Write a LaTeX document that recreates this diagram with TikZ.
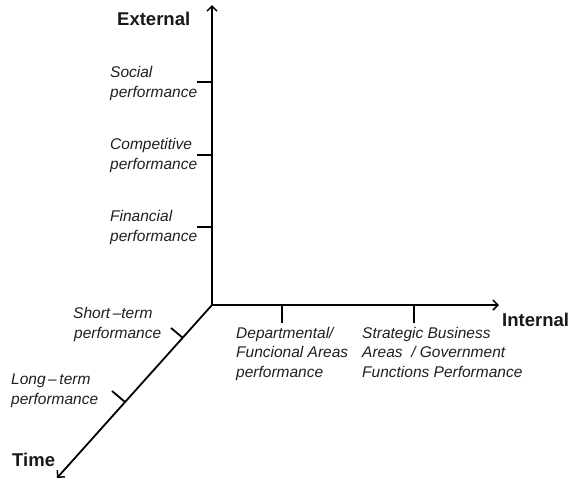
\documentclass[tikz,border=0pt]{standalone}
\usepackage{fontspec}
\setmainfont{Liberation Sans}
\usetikzlibrary{arrows.meta}
\begin{document}
\begin{tikzpicture}[x=1pt,y=-1pt,
  axis/.style={line width=1.8pt, -{Straight Barb[length=5pt,width=10pt,line width=1.5pt]}},
  tick/.style={line width=1.8pt},
  level/.style={anchor=base west, inner sep=0pt, align=left,
    font=\fontsize{15.5}{19.5}\selectfont\itshape, text=black!88},
  axisname/.style={anchor=base west, inner sep=0pt,
    font=\fontsize{18.5}{22}\selectfont\bfseries, text=black!90}]
\useasboundingbox (0,0) rectangle (576,480);

% axes
\coordinate (O) at (212,305);
\coordinate (ext) at (212,5);
\coordinate (int) at (499,305);
\coordinate (time) at (57,478);
\draw[axis] (O) -- (ext);
\draw[axis] (O) -- (int);
\draw[axis] (O) -- (time);

% ticks on the external axis
\coordinate (e1) at (212,82);   \coordinate (e1t) at (197,82);
\coordinate (e2) at (212,155);  \coordinate (e2t) at (197,155);
\coordinate (e3) at (212,227);  \coordinate (e3t) at (197,227);
\draw[tick] (e1) -- (e1t);
\draw[tick] (e2) -- (e2t);
\draw[tick] (e3) -- (e3t);

% ticks on the internal axis
\coordinate (i1) at (282,305);  \coordinate (i1t) at (282,323);
\coordinate (i2) at (414,305);  \coordinate (i2t) at (414,323);
\draw[tick] (i1) -- (i1t);
\draw[tick] (i2) -- (i2t);

% ticks on the time axis
\coordinate (t1) at (183,338);  \coordinate (t1t) at (171,328);
\coordinate (t2) at (125,402);  \coordinate (t2t) at (112,391);
\draw[tick] (t1) -- (t1t);
\draw[tick] (t2) -- (t2t);

% axis names
\node[axisname] (nExt) at (117,25) {External};
\node[axisname] (nInt) at (502,326) {Internal};
\node[axisname] (nTime) at (12,466) {Time};

% levels (placed by the baseline of their last line)
\node[level] (social) at (110,97) {Social\\performance};
\node[level] (compet) at (110,169) {Competitive\\performance};
\node[level] (financ) at (110,241) {Financial\\performance};
\node[level] (short) at (73,338) {Short\,–term\\\hspace{1pt}performance};
\node[level] (long) at (11,404) {Long\,–\,term\\performance};
\node[level] (dept) at (236,377) {Departmental/\\Funcional Areas\\performance};
\node[level] (sba) at (362,377) {Strategic Business\\Areas \ / Government\\Functions Performance};
\end{tikzpicture}
\end{document}
